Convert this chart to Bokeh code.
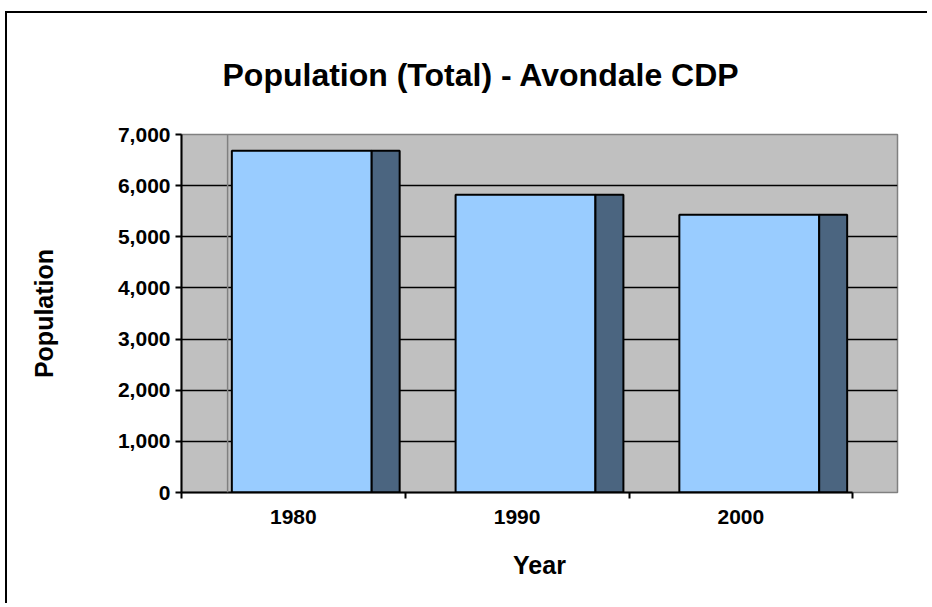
from bokeh.plotting import figure
from bokeh.models import (FixedTicker, NumeralTickFormatter, Range1d, Span, Title)
from bokeh.embed import file_html
from bokeh.resources import INLINE

# ---- data ----
years = ["1980", "1990", "2000"]
population = [6680, 5820, 5430]
y_ticks = [0, 1000, 2000, 3000, 4000, 5000, 6000, 7000]
title_text = "Population (Total) - Avondale CDP"
x_title = "Year"
y_title = "Population"

# ---- styling ----
FONT = "Liberation Sans"
FRONT = "#99ccff"
SIDE = "#4b6580"
WALL = "#c0c0c0"
EDGE = "#808080"

W, H = 922, 592
FL, FR, FT, FB = 174, 890, 121, 479   # frame edges on the canvas
p = figure(width=W, height=H, output_backend="svg", toolbar_location=None,
           x_range=Range1d(0, 3.2), y_range=Range1d(0, 7000),
           min_border_left=FL, min_border_right=W - FR,
           min_border_top=FT, min_border_bottom=H - FB)
p.styles = {"border-left": "2px solid black", "border-top": "2px solid black",
            "border-right": "0px none", "border-bottom": "0px none",
            "margin-left": "5px", "margin-top": "11px"}

p.background_fill_color = WALL
p.border_fill_color = "white"
p.outline_line_color = EDGE
p.outline_line_width = 1.5

# chart title: a blank spacer panel next to the frame, then the title above it
p.title.visible = False
p.add_layout(Title(text=" ", text_font_size="22px", text_font=FONT), "above")
p.add_layout(Title(text=title_text, align="left", offset=41,
                   text_font=FONT, text_font_style="bold", text_font_size="32px",
                   text_color="black"), "above")

# back wall edge
p.add_layout(Span(location=0.206, dimension="height", line_color=EDGE, line_width=1.5))

# bars: front and side faces
xs = list(range(len(years)))
p.quad(left=[i + 0.225 for i in xs], right=[i + 0.85 for i in xs],
       bottom=0, top=population, fill_color=FRONT, line_color="black", line_width=2)
p.quad(left=[i + 0.85 for i in xs], right=[i + 0.975 for i in xs],
       bottom=0, top=population, fill_color=SIDE, line_color="black", line_width=2)

# grids
p.xgrid.visible = False
p.ygrid.ticker = FixedTicker(ticks=[t for t in y_ticks if 0 < t < 7000])
p.ygrid.grid_line_color = "black"
p.ygrid.grid_line_width = 1.5
p.ygrid.level = "underlay"

# y axis
ya = p.yaxis[0]
ya.ticker = FixedTicker(ticks=y_ticks, minor_ticks=[])
ya.formatter = NumeralTickFormatter(format="0,0")
ya.axis_line_color = "black"
ya.axis_line_width = 2
ya.major_tick_line_color = "black"
ya.major_tick_line_width = 2
ya.major_tick_out = 6
ya.major_tick_in = 0
ya.minor_tick_line_color = None
ya.major_label_text_font = FONT
ya.major_label_text_font_style = "bold"
ya.major_label_text_font_size = "21px"
ya.major_label_text_color = "black"
ya.major_label_standoff = 5
ya.axis_label = y_title
ya.axis_label_text_font = FONT
ya.axis_label_text_font_style = "bold"
ya.axis_label_text_font_size = "25px"
ya.axis_label_text_color = "black"
ya.axis_label_standoff = 57

# x axis
xa = p.xaxis[0]
centers = [i + 0.5 for i in xs]
xa.ticker = FixedTicker(ticks=centers, minor_ticks=list(range(len(years) + 1)))
xa.major_label_overrides = {c: y for c, y in zip(centers, years)}
xa.bounds = (0, len(years))
xa.axis_line_color = "black"
xa.axis_line_width = 2
xa.major_tick_line_color = None
xa.major_tick_out = 0
xa.major_tick_in = 0
xa.minor_tick_line_color = "black"
xa.minor_tick_line_width = 2
xa.minor_tick_out = 6
xa.minor_tick_in = 0
xa.major_label_text_font = FONT
xa.major_label_text_font_style = "bold"
xa.major_label_text_font_size = "21px"
xa.major_label_text_color = "black"
xa.major_label_standoff = 11
xa.axis_label = x_title
xa.axis_label_text_font = FONT
xa.axis_label_text_font_style = "bold"
xa.axis_label_text_font_size = "25px"
xa.axis_label_text_color = "black"
xa.axis_label_standoff = 24

open("out.html", "w").write(file_html(p, INLINE))
